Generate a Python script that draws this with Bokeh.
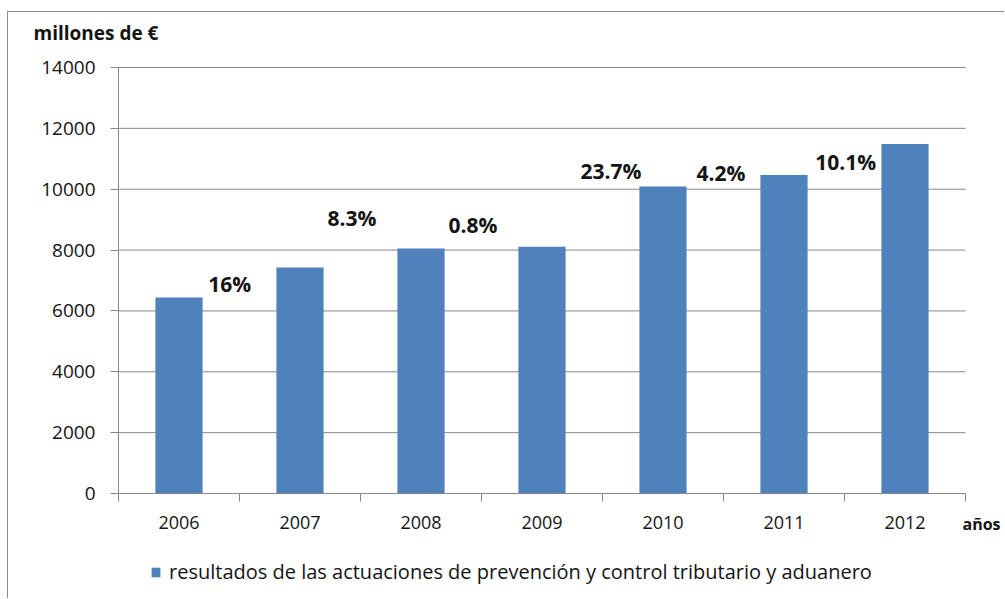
from bokeh.plotting import figure
from bokeh.models import (FixedTicker, Label, Legend, LegendItem, ColumnDataSource,
                          LabelSet, Range1d)
from bokeh.core.properties import value
from bokeh.embed import file_html
from bokeh.resources import INLINE

# ---- data ----
years = ["2006", "2007", "2008", "2009", "2010", "2011", "2012"]
results = [6440, 7430, 8050, 8110, 10090, 10470, 11490]
growth_labels = ["16%", "8.3%", "0.8%", "23.7%", "4.2%", "10.1%"]
# where the growth annotations sit (category units / y units)
growth_label_x = [0.92, 1.93, 2.93, 4.07, 4.98, 6.01]
growth_label_heights = [6900, 9040, 8840, 10610, 10520, 10880]
y_ticks = [0, 2000, 4000, 6000, 8000, 10000, 12000, 14000]
series_name = "resultados de las actuaciones de prevención y control tributario y aduanero"
y_title = "millones de €"
x_title = "años"

FONT = "Open Sans"
BLUE = "#4F81BD"
GRAY = "#878787"
TXT = "#141414"

n = len(years)
centers = [i + 0.5 for i in range(n)]
bounds = [float(i) for i in range(n + 1)]

# ---- layout (pixels on the page) ----
W, H = 997, 587            # canvas; page left 8, top 12 (inside a 1px border)
CL, CT = 8, 12             # canvas origin on page
AX_L, AX_R = 118, 965      # axis start/end (x)
AX_B, AX_T = 493, 67       # y=0 and y=max (page y)
px_x = (AX_R - AX_L) / n
px_y = (AX_B - AX_T) / y_ticks[-1]
x_start = (CL - AX_L) / px_x
x_end = (CL + W - AX_L) / px_x
y_end = (AX_B - CT) / px_y
y_start = -(CT + H - AX_B) / px_y

p = figure(width=W, height=H, output_backend="svg", toolbar_location=None,
           x_range=Range1d(x_start, x_end), y_range=Range1d(y_start, y_end),
           min_border=0, min_border_left=0, min_border_right=0,
           min_border_top=0, min_border_bottom=0)
p.margin = (11, 0, 0, 7)
p.styles = {"border-top": "1px solid #8a8a8a", "border-left": "1px solid #8a8a8a"}
p.outline_line_color = None
p.background_fill_color = "white"
p.border_fill_color = "white"
p.xgrid.visible = False
p.ygrid.visible = False

# horizontal grid lines at the y ticks, spanning the category axis
p.segment(x0=[0] * (len(y_ticks) - 1), x1=[n] * (len(y_ticks) - 1),
          y0=y_ticks[1:], y1=y_ticks[1:], line_color=GRAY, line_width=1)

src = ColumnDataSource(dict(x=centers, top=results, year=years))
bars = p.vbar(x="x", top="top", bottom=0, width=0.39, source=src,
              fill_color=BLUE, line_color=None)

# y axis
yax = p.yaxis[0]
yax.fixed_location = 0
yax.bounds = (y_ticks[0], y_ticks[-1])
yax.ticker = FixedTicker(ticks=y_ticks)
yax.axis_line_color = GRAY
yax.major_tick_line_color = GRAY
yax.major_tick_out = 8
yax.major_tick_in = 0
yax.minor_tick_line_color = None
yax.major_label_text_font = FONT
yax.major_label_text_font_size = "19px"
yax.major_label_text_color = TXT
yax.major_label_standoff = 15

# x axis: labels at centers, ticks at category boundaries
xax = p.xaxis[0]
xax.fixed_location = 0
xax.bounds = (0, n)
xax.ticker = FixedTicker(ticks=centers, minor_ticks=bounds)
xax.major_label_overrides = {c: y for c, y in zip(centers, years)}
xax.axis_line_color = GRAY
xax.major_tick_line_color = None
xax.minor_tick_line_color = GRAY
xax.minor_tick_out = 8
xax.minor_tick_in = 0
xax.major_tick_out = 8
xax.major_tick_in = 0
xax.major_label_text_font = FONT
xax.major_label_text_font_size = "18px"
xax.major_label_text_color = TXT
xax.major_label_standoff = 14

# growth labels between bars
lsrc = ColumnDataSource(dict(x=growth_label_x, y=growth_label_heights, t=growth_labels))
p.add_layout(LabelSet(x="x", y="y", text="t", source=lsrc, text_align="center",
                      text_baseline="middle", text_font=value(FONT),
                      text_font_style="bold", text_font_size="21px",
                      text_color=TXT))

# titles
p.add_layout(Label(x=0, y=y_ticks[-1], x_offset=-85, y_offset=35, text=y_title,
                   text_font=FONT, text_font_style="bold",
                   text_font_size="19px", text_baseline="middle",
                   text_color=TXT))
p.add_layout(Label(x=n, y=0, x_offset=-3, y_offset=-30, text=x_title,
                   text_font=FONT, text_font_style="bold",
                   text_font_size="16px", text_baseline="middle",
                   text_color=TXT))

legend = Legend(items=[LegendItem(label=series_name, renderers=[bars])],
                location=(142, 14), orientation="horizontal",
                label_text_font=FONT, label_text_font_size="20px",
                label_text_color=TXT,
                glyph_width=11, glyph_height=12, label_standoff=8,
                padding=0, margin=0, border_line_color=None,
                background_fill_alpha=0)
p.add_layout(legend, "center")

open("out.html", "w").write(file_html(p, INLINE))
